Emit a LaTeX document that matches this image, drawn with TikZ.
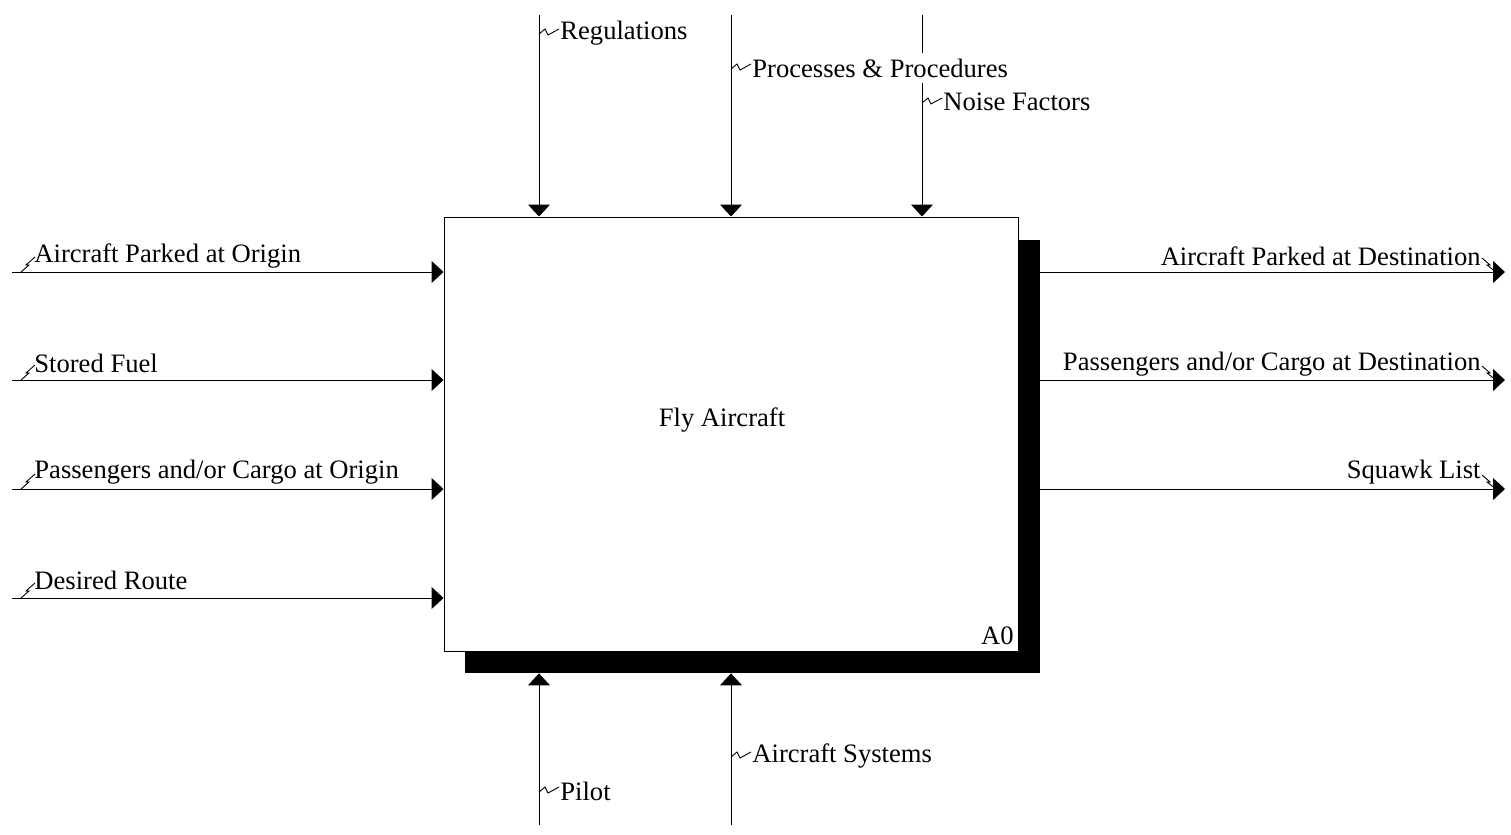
\documentclass[tikz,border=0pt]{standalone}
\usepackage{fontspec}
\setmainfont{Liberation Serif}
\usetikzlibrary{positioning}
\usetikzlibrary{arrows.meta}
\tikzset{flow/.style = {line width=0.5pt, -{Triangle[length=6pt,width=11pt]}}}
\tikzset{lbl/.style = {inner xsep=0, inner ysep=0, font=\fontsize{13.3}{15}\selectfont}}
\tikzset{squig/.style = {line width=0.45pt}}
\tikzset{actbox/.style = {draw, fill=white, line width=0.5pt, minimum width=287pt, minimum height=217pt, inner sep=0}}
\tikzset{shadowbox/.style = {fill, minimum width=287.5pt, minimum height=216.5pt, inner sep=0}}

\begin{document}
\begin{tikzpicture}[x=0.5pt, y=-0.5pt]
    \useasboundingbox (0,0) rectangle (1511,835);
    % shadow and activity box
    \node[shadowbox] (shd) at (752.5,456.5) {};
    \node[actbox] (fly) at (731,434) {};
    \node[lbl] (flyl) at (722,420) {Fly Aircraft};
    \node[lbl, anchor=south east] (num) at (1014,645) {A0};

    % inputs
    \coordinate (in1) at (12,272);
    \coordinate (in2) at (12,380);
    \coordinate (in3) at (12,489);
    \coordinate (in4) at (12,598);
    \draw[flow] (in1) -- (fly.west |- in1);
    \draw[flow] (in2) -- (fly.west |- in2);
    \draw[flow] (in3) -- (fly.west |- in3);
    \draw[flow] (in4) -- (fly.west |- in4);
    \node[lbl, anchor=west] (in1l) at (34,256) {Aircraft Parked at Origin};
    \node[lbl, anchor=west] (in2l) at (34,363) {Stored Fuel};
    \node[lbl, anchor=west] (in3l) at (34,472) {Passengers and/or Cargo at Origin};
    \node[lbl, anchor=west] (in4l) at (34,580) {Desired Route};
    \foreach \i in {in1,in2,in3,in4}
      \draw[squig] (\i) ++(9,0) -- ++(8,-7) -- ++(-3,0) -- ++(9,-8);

    % controls
    \coordinate (c1) at (539,15);
    \coordinate (c2) at (731,15);
    \coordinate (c3) at (922,15);
    \draw[flow] (c1) -- (c1 |- fly.north);
    \draw[flow] (c2) -- (c2 |- fly.north);
    \draw[flow] (c3) -- (c3 |- fly.north);
    \node[lbl, anchor=west] (c1l) at (560,33) {Regulations};
    \node[lbl, anchor=west, fill=white, inner ysep=3pt] (c2l) at (752,68) {Processes \& Procedures};
    \node[lbl, anchor=west] (c3l) at (943,102) {Noise Factors};
    \draw[squig] (c1 |- c1l) ++(0,1) -- ++(6,-5) -- ++(3,6) -- ++(11,-6);
    \draw[squig] (c2 |- c2l) ++(0,1) -- ++(6,-5) -- ++(3,6) -- ++(11,-6);
    \draw[squig] (c3 |- c3l) ++(0,1) -- ++(6,-5) -- ++(3,6) -- ++(11,-6);

    % outputs
    \coordinate (o1) at (1505,272);
    \coordinate (o2) at (1505,380);
    \coordinate (o3) at (1505,489);
    \draw[flow] (shd.east |- o1) -- (o1);
    \draw[flow] (shd.east |- o2) -- (o2);
    \draw[flow] (shd.east |- o3) -- (o3);
    \node[lbl, anchor=east] (o1l) at (1481,256) {Aircraft Parked at Destination};
    \node[lbl, anchor=east] (o2l) at (1481,364) {Passengers and/or Cargo at Destination};
    \node[lbl, anchor=east] (o3l) at (1481,472) {Squawk List};
    \foreach \i in {o1,o2,o3}
      \draw[squig] (\i) ++(-23,-14) -- ++(8,7) -- ++(-3,0) -- ++(9,7);

    % mechanisms
    \coordinate (m1) at (539,825);
    \coordinate (m2) at (731,825);
    \draw[flow] (m1) -- (m1 |- shd.south);
    \draw[flow] (m2) -- (m2 |- shd.south);
    \node[lbl, anchor=west] (m1l) at (560,791) {Pilot};
    \node[lbl, anchor=west] (m2l) at (752,756) {Aircraft Systems};
    \draw[squig] (m1 |- m1l) ++(0,1) -- ++(6,-5) -- ++(3,6) -- ++(11,-6);
    \draw[squig] (m2 |- m2l) ++(0,1) -- ++(6,-5) -- ++(3,6) -- ++(11,-6);
\end{tikzpicture}
\end{document}
